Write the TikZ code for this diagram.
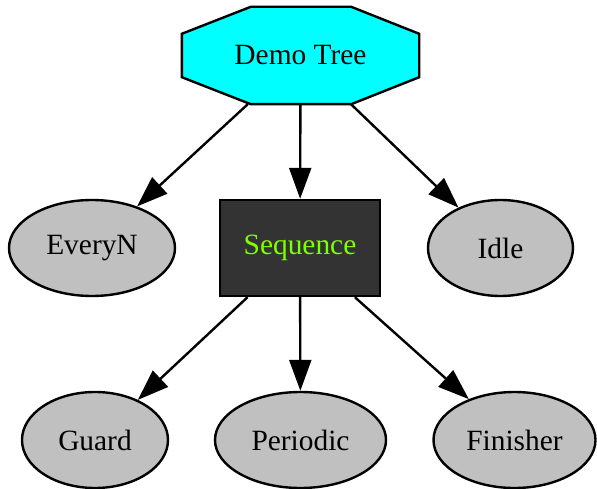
\documentclass[tikz,border=0pt]{standalone}
\usepackage{fontspec}
\setmainfont{Liberation Serif}
\usetikzlibrary{arrows.meta,shapes.geometric,backgrounds,calc}

\definecolor{rootcyan}{HTML}{00FFFF}
\definecolor{leafgray}{HTML}{C0C0C0}
\definecolor{seqfill}{HTML}{333333}
\definecolor{seqtext}{HTML}{7FFF00}

\begin{document}
\begin{tikzpicture}[x=1pt,y=-1pt,line width=2.4pt,
    >={Triangle[length=31pt,width=22pt]},
    every node/.style={font=\fontsize{29.4}{34}\selectfont},
    leaf/.style={ellipse,draw,fill=leafgray,minimum height=96pt},
    seqbox/.style={rectangle,draw,fill=seqfill,text=seqtext,minimum width=160pt,minimum height=96pt}]
  \useasboundingbox (0,0) rectangle (597,489);

  % root, octagon drawn behind it
  \node[minimum width=235pt,minimum height=95pt] (root) at (300.5,55.5) {Demo Tree};
  \begin{scope}[on background layer]
    \filldraw[fill=rootcyan,draw=black,line width=2.4pt,line join=miter]
      ($(root.north west)+(69,0)$) -- ($(root.north east)+(-68,0)$)
      -- ($(root.north east)+(0,27)$) -- ($(root.south east)+(0,-27)$)
      -- ($(root.south east)+(-68,0)$) -- ($(root.south west)+(69,0)$)
      -- ($(root.south west)+(0,-27)$) -- ($(root.north west)+(0,27)$) -- cycle;
  \end{scope}

  \node[leaf,minimum width=166pt] (everyn) at (92,248) {EveryN};
  \node[seqbox] (seq) at (300,248) {Sequence};
  \node[leaf,minimum width=145pt] (idle) at (500.5,248) {Idle};

  \node[leaf,minimum width=146pt] (guard) at (95,440) {Guard};
  \node[leaf,minimum width=171pt] (periodic) at (300.5,440) {Periodic};
  \node[leaf,minimum width=162pt] (finisher) at (514.5,440) {Finisher};

  \draw[->] (root) -- (everyn);
  \draw[->] (root) -- (seq);
  \draw[->] (root) -- (idle);

  \draw[->] (seq) -- (guard);
  \draw[->] (seq) -- (periodic);
  \draw[->] (seq) -- (finisher);
\end{tikzpicture}
\end{document}
